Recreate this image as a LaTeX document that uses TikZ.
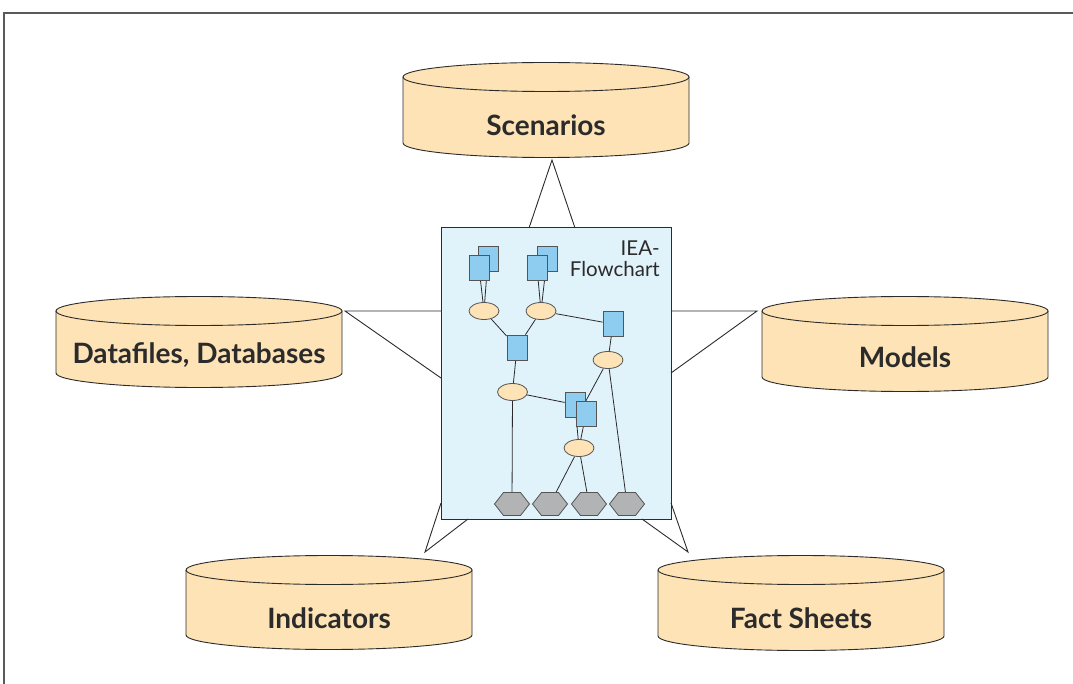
\documentclass[tikz,border=0pt]{standalone}
\usepackage{fontspec}
\setmainfont{Lato}
\usetikzlibrary{shapes.geometric,shapes.symbols}

\definecolor{peach}{HTML}{FDE3B6}
\definecolor{paleblue}{HTML}{E0F2FA}
\definecolor{sqblue}{HTML}{8ECDF0}
\definecolor{hexgray}{HTML}{B2B3B5}
\definecolor{ink}{HTML}{2B2B2B}
\definecolor{framegray}{HTML}{5A5A5A}

\pgfdeclarelayer{bg}
\pgfdeclarelayer{mid}
\pgfsetlayers{bg,mid,main}

\tikzset{
  drumline/.style={draw=ink, line width=0.9pt},
  drumtext/.style={font=\bfseries\fontsize{28}{28}\selectfont, text=ink, inner sep=0pt},
  link/.style={draw=ink, line width=0.9pt},
  flow/.style={draw=ink, line width=0.8pt},
  sq/.style={rectangle, draw=ink!80, line width=0.8pt, fill=sqblue,
             minimum width=20pt, minimum height=25pt, inner sep=0pt},
  oval/.style={ellipse, draw=ink!80, line width=0.8pt, fill=peach,
               minimum width=30pt, minimum height=17pt, inner sep=0pt},
  hexa/.style={signal, signal to=west and east, signal pointer angle=104,
               draw=ink!80, line width=0.8pt, fill=hexgray,
               minimum width=35pt, minimum height=23pt, inner sep=0pt},
}

% drum: name, centre x, top-face y, bottom-face y, text, text y
\newcommand\drum[6]{%
  \fill[peach] (#2-143,#3) -- (#2-143,#4)
     arc[start angle=180, end angle=0, x radius=143, y radius=14.5]
     -- (#2+143,#3) -- cycle;
  \draw[drumline] (#2-143,#3) -- (#2-143,#4)
     arc[start angle=180, end angle=0, x radius=143, y radius=14.5]
     -- (#2+143,#3);
  \draw[drumline, fill=peach] (#2,#3) ellipse[x radius=143, y radius=14.5];
  \node[drumtext] (#1) at (#2,#6) {#5};
}

\begin{document}
\begin{tikzpicture}[x=1pt, y=-1pt]
\useasboundingbox (0,0) rectangle (1073,684);

% page frame (top and left rules)
\draw[framegray, line width=1.4pt] (1073,13) -- (4,13) -- (4,684);

% the five data stores
\drum{scen}{546}{77}{143}{Scenarios}{125}
\drum{data}{199}{311}{373}{Datafiles, Databases}{355}
\drum{models}{905}{311}{377}{Models}{357}
\drum{ind}{329}{570}{635}{Indicators}{618}
\drum{fact}{801}{570}{636}{Fact Sheets}{618}

% central flowchart panel
\begin{pgfonlayer}{bg}
  \node[rectangle, draw=ink, line width=1pt, fill=paleblue,
        minimum width=230pt, minimum height=291pt, inner sep=0pt] (iea) at (556,373.5) {};
\end{pgfonlayer}
\node[anchor=north east, align=right, inner sep=0pt, text=ink,
      font=\fontsize{20.5}{21}\selectfont] (title) at (660,241) {IEA-\\Flowchart};

% wedge connectors between stores and the panel
\coordinate (apS) at (552,160);
\coordinate (sA) at (529,228);  \coordinate (sB) at (575,228);
\coordinate (apD) at (345,311);
\coordinate (dA) at (441,311);  \coordinate (dB) at (441,378);
\coordinate (apM) at (757,311);
\coordinate (mA) at (671,311);  \coordinate (mB) at (671,373);
\coordinate (apI) at (425,552);
\coordinate (iA) at (441,503);  \coordinate (iB) at (468,519);
\coordinate (apF) at (688,552);
\coordinate (fA) at (671,503);  \coordinate (fB) at (642,519);

\draw[link] (sA) -- (apS) -- (sB);
\draw[link] (dA) -- (apD) -- (dB);
\draw[link] (mA) -- (apM) -- (mB);
\draw[link] (iA) -- (apI) -- (iB);
\draw[link] (fA) -- (apF) -- (fB);

% flowchart elements
\node[sq] (aB) at (488,258.5) {};
\node[sq] (aF) at (479,267.5) {};
\node[sq] (bB) at (547,258.5) {};
\node[sq] (bF) at (537,267.5) {};
\node[oval] (e1) at (484,311) {};
\node[oval] (e2) at (541,311) {};
\node[sq] (sR) at (613,324) {};
\node[sq] (sM) at (517,347.5) {};
\node[oval] (e3) at (608,360) {};
\node[oval] (e4) at (512.5,392) {};
\node[sq] (dBk) at (575,404.5) {};
\node[sq] (dFr) at (586,413.5) {};
\node[oval] (e5) at (579,448) {};
\node[hexa] (h1) at (512,504) {};
\node[hexa] (h2) at (550,504) {};
\node[hexa] (h3) at (589,504) {};
\node[hexa] (h4) at (627,504) {};

\begin{pgfonlayer}{mid}
  \draw[flow] (aB) -- (e1);
  \draw[flow] (aF) -- (e1);
  \draw[flow] (bB) -- (e2);
  \draw[flow] (bF) -- (e2);
  \draw[flow] (e1) -- (sM);
  \draw[flow] (e2) -- (sM);
  \draw[flow] (e2) -- (sR);
  \draw[flow] (sR) -- (e3);
  \draw[flow] (sM) -- (e4);
  \draw[flow] (e4) -- (dBk);
  \draw[flow] (e3) -- (dBk.15);
  \draw[flow] (e3) -- (h4);
  \draw[flow] (dBk) -- (e5);
  \draw[flow] (dFr) -- (e5);
  \draw[flow] (e4) -- (h1);
  \draw[flow] (e5) -- (h2);
  \draw[flow] (e5) -- (h3);
\end{pgfonlayer}
\end{tikzpicture}
\end{document}
